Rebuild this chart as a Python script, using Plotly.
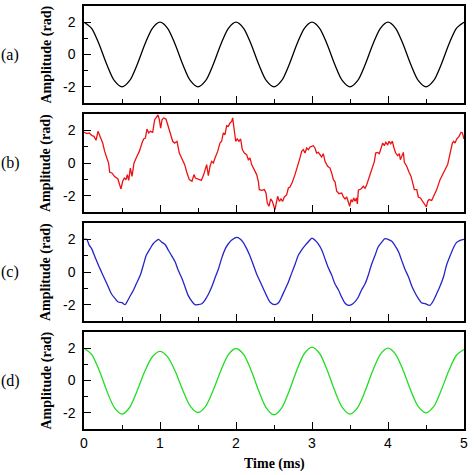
import plotly.graph_objects as go

# ---------------- data ----------------
# panel (a): clean signal, sampled every 0.1 ms
t_a = [round(i * 0.1, 2) for i in range(51)]
amp_a = [2.0, 1.62, 0.62, -0.62, -1.62, -2.0, -1.62, -0.62, 0.62, 1.62,
         2.0, 1.62, 0.62, -0.62, -1.62, -2.0, -1.62, -0.62, 0.62, 1.62,
         2.0, 1.62, 0.62, -0.62, -1.62, -2.0, -1.62, -0.62, 0.62, 1.62,
         2.0, 1.62, 0.62, -0.62, -1.62, -2.0, -1.62, -0.62, 0.62, 1.62,
         2.0, 1.62, 0.62, -0.62, -1.62, -2.0, -1.62, -0.62, 0.62, 1.62,
         2.0]

# panel (b): noisy signal
t_b = [0.000, 0.039, 0.070, 0.105, 0.132, 0.158, 0.184, 0.215, 0.246, 0.272,
       0.303, 0.325, 0.338, 0.368, 0.399, 0.425, 0.447, 0.469, 0.487, 0.509,
       0.531, 0.553, 0.570, 0.588, 0.610, 0.632, 0.658, 0.697, 0.728, 0.763,
       0.785, 0.807, 0.829, 0.851, 0.873, 0.904, 0.930, 0.947, 0.974, 0.991,
       1.009, 1.026, 1.048, 1.079, 1.105, 1.136, 1.167, 1.193, 1.224, 1.254,
       1.289, 1.325, 1.355, 1.386, 1.421, 1.447, 1.465, 1.491, 1.518, 1.544,
       1.575, 1.614, 1.636, 1.658, 1.680, 1.702, 1.724, 1.759, 1.789, 1.811,
       1.833, 1.855, 1.877, 1.899, 1.921, 1.943, 1.956, 1.978, 1.996, 2.017,
       2.039, 2.061, 2.083, 2.110, 2.140, 2.162, 2.184, 2.206, 2.241, 2.272,
       2.294, 2.307, 2.338, 2.373, 2.395, 2.412, 2.434, 2.456, 2.478, 2.500,
       2.513, 2.526, 2.548, 2.570, 2.592, 2.614, 2.636, 2.667, 2.689, 2.710,
       2.741, 2.776, 2.798, 2.820, 2.842, 2.864, 2.886, 2.908, 2.930, 2.952,
       2.974, 2.996, 3.017, 3.039, 3.061, 3.083, 3.105, 3.127, 3.149, 3.171,
       3.206, 3.237, 3.259, 3.281, 3.303, 3.325, 3.356, 3.391, 3.413, 3.435,
       3.457, 3.478, 3.496, 3.514, 3.531, 3.549, 3.566, 3.584, 3.597, 3.610,
       3.645, 3.676, 3.698, 3.720, 3.742, 3.777, 3.799, 3.821, 3.838, 3.864,
       3.886, 3.908, 3.930, 3.952, 3.970, 3.996, 4.014, 4.035, 4.057, 4.079,
       4.101, 4.128, 4.149, 4.163, 4.180, 4.202, 4.215, 4.246, 4.277, 4.303,
       4.325, 4.347, 4.378, 4.399, 4.426, 4.452, 4.478, 4.505, 4.522, 4.540,
       4.575, 4.597, 4.619, 4.641, 4.685, 4.715, 4.750, 4.785, 4.803, 4.829,
       4.847, 4.864, 4.882, 4.904, 4.935, 4.961, 4.979, 5.000]
amp_b = [1.88, 1.80, 1.84, 1.67, 1.63, 1.39, 1.94, 1.53, 1.22, 0.71,
         0.20, -0.04, -0.57, -0.61, -0.82, -0.92, -0.98, -1.33, -1.59, -1.12,
         -0.92, -1.02, -0.71, -1.06, -0.31, -0.82, 0.00, 0.41, 0.71, 1.22,
         1.47, 1.53, 2.08, 1.84, 1.94, 1.88, 2.65, 2.76, 2.95, 2.65,
         2.14, 2.65, 2.76, 2.69, 2.24, 1.84, 1.33, 1.22, 1.33, 0.61,
         0.24, -0.10, -0.61, -1.02, -1.12, -0.71, -0.92, -0.98, -1.02, -1.06,
         -0.71, -0.10, -0.78, -0.20, 0.10, 0.00, 0.31, 0.71, 1.22, 1.33,
         1.84, 1.73, 2.29, 2.24, 2.45, 2.55, 2.76, 1.84, 1.33, 1.47,
         1.33, 1.47, 0.82, 0.61, 0.51, 0.20, 0.31, -0.10, -0.41, -0.71,
         -1.12, -1.63, -1.67, -1.63, -1.84, -2.45, -2.65, -2.20, -2.35, -2.76,
         -2.86, -2.55, -2.04, -2.35, -2.20, -2.35, -2.08, -1.94, -1.53, -1.47,
         -1.18, -0.71, -0.41, -0.10, 0.31, 0.71, 0.82, 0.61, 0.92, 0.82,
         0.98, 1.02, 1.06, 0.92, 0.61, 0.65, 0.51, 0.37, 0.57, 0.10,
         -0.20, -0.31, -0.61, -1.02, -1.15, -1.73, -1.88, -1.84, -2.08, -2.20,
         -2.08, -2.45, -2.65, -2.24, -2.39, -2.14, -2.35, -2.14, -2.51, -1.67,
         -1.59, -1.43, -1.55, -1.33, -1.02, -0.61, -0.31, 0.10, 0.61, 0.65,
         0.57, 0.92, 1.22, 1.06, 1.27, 1.12, 1.33, 1.18, 1.33, 0.92,
         0.61, 0.45, 0.57, 0.20, 0.41, 0.65, 0.04, -0.20, -0.57, -0.82,
         -1.22, -1.63, -1.63, -2.08, -2.14, -2.35, -2.55, -2.69, -2.35, -2.24,
         -2.29, -2.08, -1.94, -1.63, -1.02, -0.71, -0.41, -0.10, 0.31, 0.71,
         1.22, 1.33, 1.22, 1.47, 1.63, 1.88, 1.84, 1.47]

# panel (c): slightly noisy signal
t_c = [0.00, 0.035, 0.07, 0.10, 0.145, 0.19, 0.23, 0.28, 0.32, 0.36,
       0.41, 0.45, 0.50, 0.54, 0.56, 0.60, 0.65, 0.69, 0.74, 0.78,
       0.82, 0.87, 0.91, 0.96, 0.98, 1.02, 1.07, 1.11, 1.15, 1.20,
       1.24, 1.29, 1.33, 1.37, 1.42, 1.46, 1.50, 1.55, 1.59, 1.64,
       1.68, 1.72, 1.77, 1.81, 1.86, 1.90, 1.94, 2.01, 2.05, 2.09,
       2.14, 2.18, 2.23, 2.27, 2.32, 2.36, 2.40, 2.45, 2.51, 2.56,
       2.60, 2.64, 2.69, 2.73, 2.78, 2.82, 2.86, 2.91, 2.95, 3.00,
       3.04, 3.08, 3.13, 3.17, 3.21, 3.26, 3.30, 3.35, 3.39, 3.43,
       3.48, 3.52, 3.57, 3.61, 3.65, 3.70, 3.74, 3.78, 3.83, 3.87,
       3.92, 3.96, 4.00, 4.05, 4.09, 4.14, 4.18, 4.22, 4.27, 4.31,
       4.35, 4.40, 4.44, 4.49, 4.55, 4.60, 4.64, 4.68, 4.73, 4.77,
       4.82, 4.86, 4.90, 4.95, 5.00]
amp_c = [2.00, 2.00, 1.63, 1.43, 0.92, 0.41, 0.00, -0.51, -0.92, -1.33,
         -1.63, -1.84, -1.88, -2.00, -1.88, -1.53, -1.12, -0.71, -0.20, 0.41,
         1.02, 1.43, 1.73, 1.94, 2.00, 1.84, 1.67, 1.33, 1.02, 0.61,
         0.10, -0.41, -0.92, -1.43, -1.80, -2.00, -2.00, -1.94, -1.73, -1.33,
         -0.92, -0.41, 0.20, 0.82, 1.43, 1.73, 1.94, 2.12, 2.04, 1.84,
         1.43, 1.02, 0.41, -0.10, -0.61, -1.02, -1.43, -1.85, -2.00, -1.88,
         -1.53, -1.12, -0.61, -0.10, 0.51, 1.02, 1.33, 1.63, 1.84, 2.08,
         1.94, 1.73, 1.33, 0.82, 0.31, -0.20, -0.71, -1.12, -1.53, -1.88,
         -2.04, -2.00, -1.80, -1.53, -1.12, -0.71, -0.20, 0.41, 1.02, 1.53,
         1.84, 2.04, 2.00, 1.88, 1.63, 1.22, 0.71, 0.20, -0.31, -0.82,
         -1.22, -1.63, -1.88, -1.94, -2.04, -1.73, -1.33, -0.92, -0.31, 0.41,
         1.02, 1.47, 1.80, 1.94, 2.00]

# panel (d): smooth signal, sampled every 0.1 ms
t_d = [round(i * 0.1, 2) for i in range(51)]
amp_d = [2.00, 1.62, 0.63, -0.64, -1.68, -2.08, -1.67, -0.63, 0.57, 1.47,
         1.80, 1.46, 0.57, -0.60, -1.60, -1.98, -1.60, -0.61, 0.61, 1.60,
         1.98, 1.61, 0.62, -0.65, -1.71, -2.12, -1.71, -0.65, 0.64, 1.67,
         2.06, 1.67, 0.64, -0.64, -1.68, -2.08, -1.68, -0.64, 0.62, 1.62,
         2.00, 1.62, 0.62, -0.62, -1.62, -2.00, -1.62, -0.61, 0.60, 1.56,
         1.92]

panel_labels = ["(a)", "(b)", "(c)", "(d)"]
y_title = "Amplitude (rad)"
x_title = "Time (ms)"
x_ticks = [0, 1, 2, 3, 4, 5]
y_ticks = [-2, 0, 2]

# ---------------- figure ----------------
W, H = 474, 475
L, R, T, B = 84, 10, 6, 46
plot_h = H - T - B
# pixel rows of each panel (top, bottom)
panel_px = [(6, 103), (114, 212), (223, 321), (332, 429)]
domains = [[(H - B - bot) / plot_h, (H - B - top) / plot_h] for top, bot in panel_px]

series = [
    (t_a, amp_a, "#000000", "spline"),
    (t_b, amp_b, "#ee1111", "linear"),
    (t_c, amp_c, "#2424c8", "spline"),
    (t_d, amp_d, "#22dd22", "spline"),
]

fig = go.Figure()
tick_font = dict(family="Liberation Sans, Arial, sans-serif", size=14, color="black")
title_font = dict(family="Liberation Serif, Times New Roman, serif", size=14, color="black")

for i, (tx, ty, col, shape) in enumerate(series):
    n = "" if i == 0 else str(i + 1)
    line = dict(color=col, width=1.3, shape=shape)
    if shape == "spline":
        line["smoothing"] = 0.8
    fig.add_trace(go.Scatter(x=tx, y=ty, mode="lines", line=line,
                             xaxis="x" + n, yaxis="y" + n, showlegend=False,
                             hoverinfo="skip"))
    fig.layout["xaxis" + n] = dict(
        domain=[0, 1], anchor="y" + n, range=[0, 5],
        tickmode="array", tickvals=x_ticks, ticktext=[str(v) for v in x_ticks],
        ticks="inside", ticklen=7, tickwidth=1.3, tickcolor="black",
        minor=dict(tickmode="array", tickvals=[0.5, 1.5, 2.5, 3.5, 4.5],
                   ticks="inside", ticklen=4, tickwidth=1.3, tickcolor="black"),
        showline=True, linecolor="black", linewidth=1.5, mirror=True,
        showgrid=False, zeroline=False, showticklabels=(i == 3),
        tickfont=tick_font, fixedrange=True, automargin=False,
    )
    fig.layout["yaxis" + n] = dict(
        domain=domains[i], anchor="x" + n, range=[-3, 3],
        tickmode="array", tickvals=y_ticks, ticktext=[str(v) for v in y_ticks],
        ticks="inside", ticklen=7, tickwidth=1.3, tickcolor="black",
        minor=dict(tickmode="array", tickvals=[-1, 1],
                   ticks="inside", ticklen=4, tickwidth=1.3, tickcolor="black"),
        showline=True, linecolor="black", linewidth=1.5, mirror=True,
        showgrid=False, zeroline=False, showticklabels=True,
        tickfont=tick_font, ticklabelstandoff=4, fixedrange=True, automargin=False,
    )
    yc = (domains[i][0] + domains[i][1]) / 2
    fig.add_annotation(text="<b>" + y_title + "</b>", xref="paper", yref="paper",
                       x=(46 - L) / (W - L - R), y=yc, textangle=-90,
                       showarrow=False, xanchor="center", yanchor="middle",
                       font=title_font)
    fig.add_annotation(text=panel_labels[i], xref="paper", yref="paper",
                       x=(10 - L) / (W - L - R), y=yc,
                       showarrow=False, xanchor="center", yanchor="middle",
                       font=dict(family="Liberation Serif, Times New Roman, serif",
                                 size=16, color="black"))

fig.add_annotation(text="<b>" + x_title + "</b>", xref="paper", yref="paper",
                   x=0.5, y=(H - B - 464) / plot_h, showarrow=False,
                   xanchor="center", yanchor="middle", font=title_font)

fig.update_layout(width=W, height=H, margin=dict(l=L, r=R, t=T, b=B),
                  paper_bgcolor="white", plot_bgcolor="white")

fig.write_html("out.html", config={"displayModeBar": False},
               post_script="document.body.style.margin='0px';document.body.style.padding='0px';")
